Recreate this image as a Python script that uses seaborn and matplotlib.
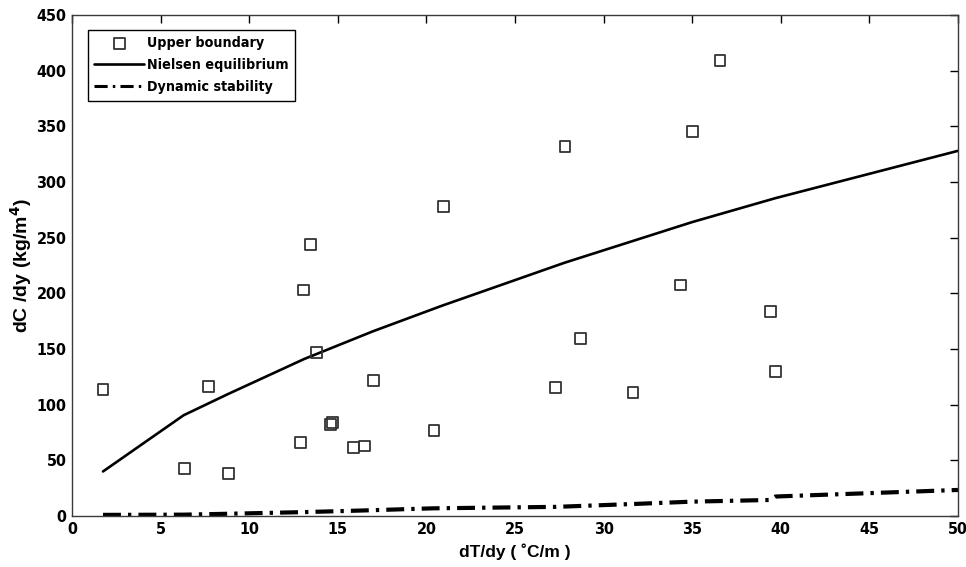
import matplotlib
matplotlib.use("Agg")
import matplotlib.pyplot as plt
import seaborn as sns
import pandas as pd
from matplotlib import font_manager
from matplotlib.font_manager import FontProperties

# ---- data ----
upper_x = [1.75, 6.36, 7.7, 8.84, 12.9, 13.09, 13.48, 13.8, 14.58, 14.71, 15.91, 16.53,
           17.04, 20.43, 20.94, 27.31, 27.82, 28.67, 31.66, 34.33, 35.03, 36.57, 39.43, 39.69]
upper_y = [114, 43, 116, 38, 66, 203, 243.5, 147, 82.4, 84.2, 61.7, 62.9,
           121.3, 76.7, 277.6, 115, 331.8, 159.6, 110.8, 207.5, 345.7, 409, 183.9, 129.7]

nielsen_x = [1.75, 6.3, 8.8, 13.1, 17.0, 20.9, 27.8, 35.0, 39.7, 50.0]
nielsen_y = [40, 90.5, 109.5, 141, 166, 189, 227.5, 264, 285.5, 328]

dyn_x = [1.75, 6.3, 8.8, 13.1, 16.5, 20.4, 27.3, 31.7, 35.0, 39.4, 39.7, 50.0]
dyn_y = [1.0, 1.2, 2.0, 3.5, 5.0, 6.9, 8.2, 10.8, 12.9, 14.4, 17.5, 23.4]

x_ticks = [0, 5, 10, 15, 20, 25, 30, 35, 40, 45, 50]
y_ticks = [0, 50, 100, 150, 200, 250, 300, 350, 400, 450]

labels = ["Upper boundary", "Nielsen equilibrium", "Dynamic stability"]

sns.set_style("white")
plt.rcParams["font.family"] = ["Liberation Sans", "DejaVu Sans"]
for k in ["text.color", "axes.labelcolor", "xtick.color", "ytick.color"]:
    plt.rcParams[k] = "black"

# find a condensed bold face if one is installed
cond_file = None
files = [f.fname for f in font_manager.fontManager.ttflist]
for pat in ["LiberationSansNarrow-Bold.", "DejaVuSansCondensed-Bold.", "RobotoCondensed-Bold",
            "Roboto_Condensed-Bold", "OpenSans_Condensed-Bold", "OpenSansCondensed-Bold"]:
    hits = [f for f in files if pat in f.split("/")[-1]]
    if hits:
        cond_file = hits[0]
        break


def tick_font(size):
    if cond_file:
        return FontProperties(fname=cond_file, size=size)
    return FontProperties(family="Liberation Sans", weight="bold", size=size)


fig = plt.figure(figsize=(9.66, 5.67), dpi=100)
ax = fig.add_axes([72 / 966, 51 / 567, 886 / 966, 501 / 567])

df_up = pd.DataFrame({"x": upper_x, "y": upper_y})
df_n = pd.DataFrame({"x": nielsen_x, "y": nielsen_y})
df_d = pd.DataFrame({"x": dyn_x, "y": dyn_y})

sns.scatterplot(data=df_up, x="x", y="y", ax=ax, marker="s", s=62,
                facecolor="none", edgecolor="#333333", linewidth=1.3,
                label=labels[0], zorder=3)
sns.lineplot(data=df_n, x="x", y="y", ax=ax, color="black", linewidth=1.9,
             sort=False, estimator=None, label=labels[1])
sns.lineplot(data=df_d, x="x", y="y", ax=ax, color="black", linewidth=3.0,
             sort=False, estimator=None, label=labels[2])
dl = ax.lines[-1]
dl.set_linewidth(3.0)
dl.set_dashes([4.3, 1.7, 0.8, 1.7])

ax.set_xlim(0, 50)
ax.set_ylim(0, 450)
ax.set_xticks(x_ticks)
ax.set_yticks(y_ticks)
ax.set_xticklabels([str(t) for t in x_ticks])
ax.set_yticklabels([str(t) for t in y_ticks])
for t in ax.get_xticklabels() + ax.get_yticklabels():
    t.set_fontproperties(tick_font(11.5))
ax.tick_params(direction="in", length=6, width=1, top=True, right=True,
               colors="black", pad=4)
for sp in ax.spines.values():
    sp.set_visible(True)
    sp.set_color("#3a3a3a")
    sp.set_linewidth(1.0)

ax.set_xlabel("dT/dy ( ˚C/m )", fontsize=12.5, fontweight="bold",
              family=["Liberation Sans", "DejaVu Sans"], labelpad=5)
ax.set_ylabel("dC /dy (kg/m$^{\\mathbf{4}}$)", fontsize=14, fontweight="bold",
              family=["Liberation Sans", "DejaVu Sans"], labelpad=2)

leg = ax.legend(loc="upper left", bbox_to_anchor=(0.018, 0.97), borderaxespad=0,
                frameon=True, fancybox=False, edgecolor="black", framealpha=1,
                prop=tick_font(10.3), handlelength=3.5,
                borderpad=0.45, labelspacing=0.55, handletextpad=0.15)
leg.get_frame().set_linewidth(1.0)
for h in leg.get_lines():
    if h.get_linewidth() >= 2.5:
        h.set_linewidth(2.2)

fig.savefig("out.png", dpi=100)
